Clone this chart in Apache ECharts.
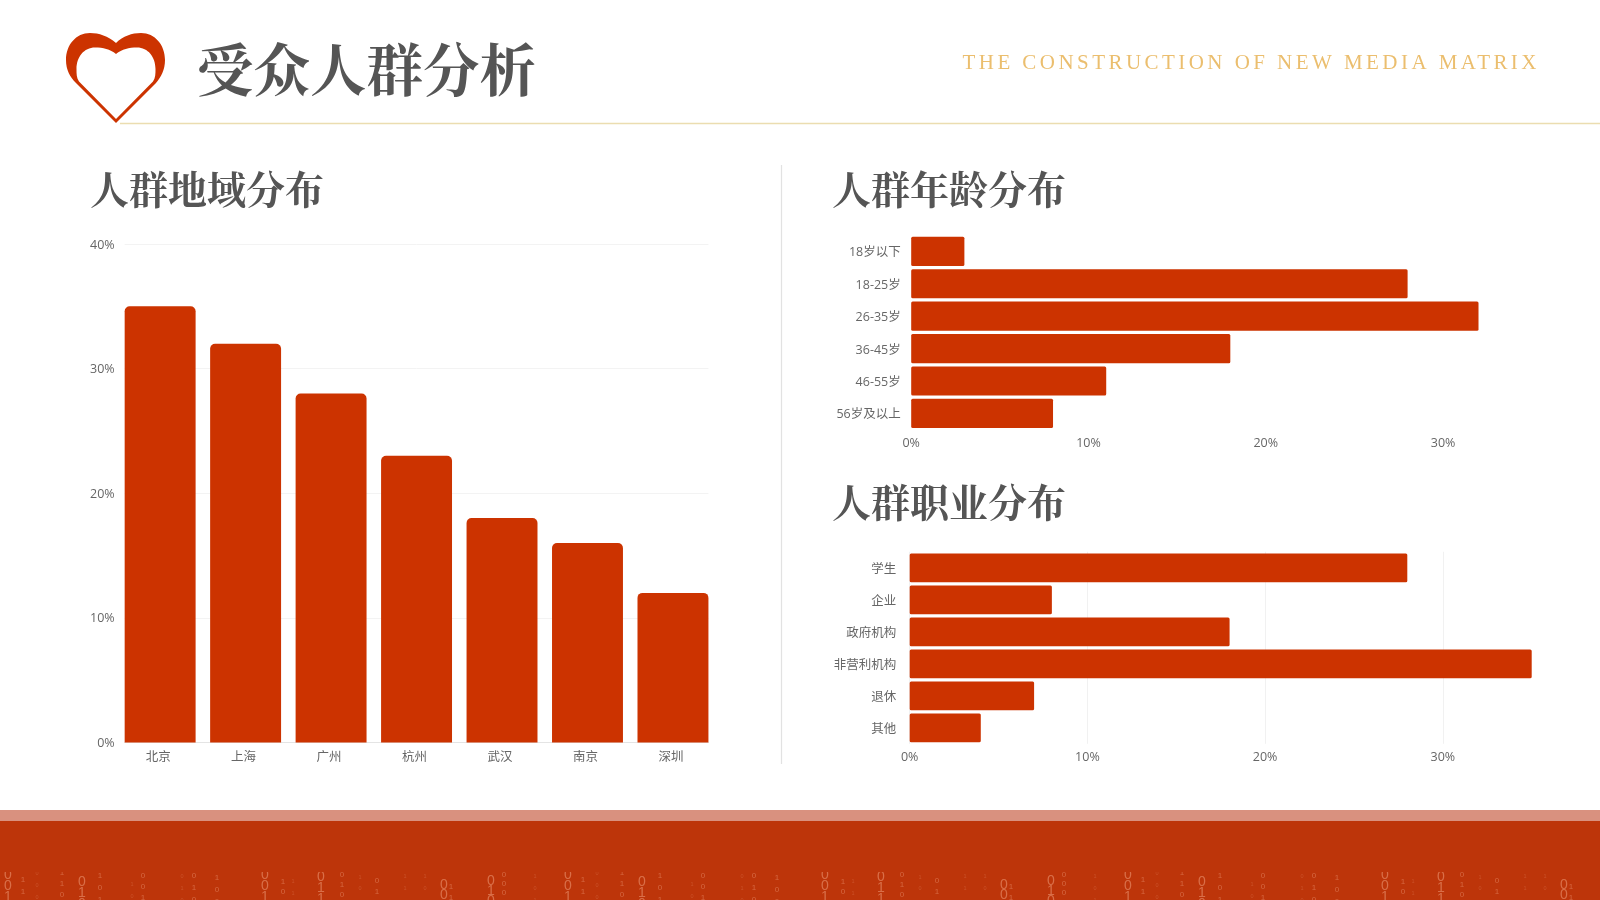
<!DOCTYPE html>
<html><head><meta charset="utf-8">
<style>html,body{margin:0;padding:0;background:#fff}#main{position:absolute;left:0;top:0;width:1600px;height:900px}#tag{position:absolute;left:950px;top:40px;width:640px;height:44px}</style>
<script src="https://cdn.jsdelivr.net/npm/echarts@6/dist/echarts.min.js"></script>
</head><body><div id="main"></div><div id="tag"></div>
<script>
const mainTitle = '受众人群分析';
const tagline = 'THE CONSTRUCTION OF NEW MEDIA MATRIX';
const regionTitle = '人群地域分布', ageTitle = '人群年龄分布', jobTitle = '人群职业分布';
const regionCats = ['北京','上海','广州','杭州','武汉','南京','深圳'];
const regionVals = [35,32,28,23,18,16,12];
const ageCats = ['18岁以下','18-25岁','26-35岁','36-45岁','46-55岁','56岁及以上'];
const ageVals = [3,28,32,18,11,8];
const jobCats = ['学生','企业','政府机构','非营利机构','退休','其他'];
const jobVals = [28,8,18,35,7,4];
// decorative binary columns in the footer: [x, font size, first row y, line step, digits]
const digitCols = [
 [8,14,875,11,'001'],[23,8,880,12,'11'],[37,5.5,873,12,'000'],[62,8,873,11,'110'],[82,14,882,11,'010'],
 [100,8,876,12,'101'],[132,5.5,884,12,'10'],[143,8,876,11,'001'],[182,5.5,876,12,'010'],[194,8,876,12,'010'],
 [217,8,878,12,'100'],[265,14,875,11,'001'],[283,8,882,10,'10'],[293,5.5,881,12,'11'],
 [321,14,877,11,'011'],[342,8,875,10,'010'],[360,5.5,877,11,'10'],[377,8,881,11,'01'],[405,5.5,876,12,'11'],
 [425,5.5,876,12,'10'],[444,14,885,10,'00'],[451,8,887,11,'11'],[491,14,881,10,'010'],[504,8,875,9,'000'],[535,5.5,876,12,'101']
];
const digitTile = 560, digitRepeats = [0,1,2];
const barRed = '#CC3300', muted = '#666', serif = '"Noto Serif CJK SC","Noto Sans CJK SC",serif', sans = '"Open Sans","Noto Sans CJK SC",sans-serif';
const heartOuter = 'M116,43 C108,36 99,33 90,33 C76,33 66,45 66,60 C66,70 70,77 76,83 L116,123 L156,83 C161,77 165,70 165,60 C165,45 155,33 141,33 C132,33 123,36 116,43 Z';
const heartInner = 'M116,54 C110,49 103,47.5 95,47.5 C84,47.5 76.5,57 76.5,69 C76.5,74 76.5,78 79,81.5 L116,119 L153,81.5 C155.5,78 155.5,74 155.5,69 C155.5,57 148,47.5 137,47.5 C129,47.5 122,49 116,54 Z';
echarts.graphic.registerShape('heartOuter', echarts.graphic.extendPath(heartOuter,{}));
echarts.graphic.registerShape('heartInner', echarts.graphic.extendPath(heartInner,{}));

const T = (x,y,text,size)=>({type:'text',x,y,silent:true,style:{text,fill:'#555',font:`700 ${size}px ${serif}`,verticalAlign:'middle'}});
const digits = [];
digitRepeats.forEach(r=>digitCols.forEach(c=>{
  digits.push({type:'text',x:c[0]+r*digitTile,y:c[2]-c[3]/2,silent:true,style:{text:c[4].split('').join('\n'),align:'center',verticalAlign:'top',
    fill:'rgba(255,190,160,'+(c[1]>=10?0.42:(c[1]>=7?0.36:0.2))+')',font:`${c[1]}px "Liberation Sans"`,lineHeight:c[3]}});
}));
const labelBase = {color:muted,fontFamily:sans,fontSize:12.5};
const pct = Object.assign({},labelBase,{formatter:'{value}%'});
const nudged = (suffix,top)=>Object.assign({},labelBase,{formatter:'{a|{value}'+suffix+'}',rich:{a:{color:muted,fontFamily:sans,fontSize:12.5,padding:[top,0,0,0]}}});
const hBar = (data,radius)=>({type:'bar',data,barCategoryGap:'10%',itemStyle:{color:barRed,borderRadius:radius},silent:true,animation:false});

const chart = echarts.init(document.getElementById('main'),null,{width:1600,height:900});
chart.setOption({
 animation:false,backgroundColor:'#fff',
 graphic:[
  {type:'rect',shape:{x:0,y:810,width:1600,height:11},style:{fill:'#D9917F'},silent:true},
  {type:'rect',shape:{x:0,y:821,width:1600,height:79},style:{fill:'#BD350A'},silent:true},
  {type:'heartOuter',style:{fill:barRed},silent:true},
  {type:'heartInner',style:{fill:'#fff'},silent:true},
  {type:'line',shape:{x1:120,y1:123.5,x2:1600,y2:123.5},style:{stroke:'#EBDDB0',lineWidth:1.5},silent:true},
  {type:'line',shape:{x1:781.5,y1:165,x2:781.5,y2:764},style:{stroke:'#E2E2E2',lineWidth:1.2},silent:true},
  T(197,70,mainTitle,56.5),T(90,189.5,regionTitle,39),T(832,189.5,ageTitle,39),T(832,502,jobTitle,39),
  ...digits,
  {type:'rect',shape:{x:0,y:840,width:1600,height:32},style:{fill:'#BD350A'},silent:true}
 ],
 grid:[
  {left:117.4,width:598.3,top:244,height:498.4},
  {left:124.7,width:583.7,top:244,height:498.4},
  {left:911.2,width:620.5,top:235.1,height:194.5},
  {left:909.7,width:622,top:551.8,height:192}
 ],
 xAxis:[
  {gridIndex:0,type:'category',data:regionCats,axisTick:{show:false},axisLine:{show:false},axisLabel:Object.assign({},labelBase,{margin:9,padding:[0,4,0,0]})},
  {gridIndex:1,type:'value',min:0,max:1,splitLine:{show:false},axisTick:{show:false},axisLabel:{show:false},axisLine:{lineStyle:{color:'#E4E4E4'}}},
  {gridIndex:2,type:'value',min:0,max:35,interval:10,splitLine:{show:false},axisLine:{show:false},axisTick:{show:false},axisLabel:Object.assign({},pct,{margin:8,showMaxLabel:false})},
  {gridIndex:3,type:'value',min:0,max:35,interval:10,splitLine:{lineStyle:{color:'#F1F1F1'},showMaxLine:false},axisLine:{show:false},axisTick:{show:false},axisLabel:Object.assign({},pct,{margin:7,showMaxLabel:false})}
 ],
 yAxis:[
  {gridIndex:0,type:'value',min:0,max:40,interval:10,show:false},
  {gridIndex:1,type:'value',min:0,max:40,interval:10,splitLine:{lineStyle:{color:'#F3F3F3'}},axisLine:{show:false},axisTick:{show:false},axisLabel:Object.assign(nudged('%',2),{margin:10})},
  {gridIndex:2,type:'category',inverse:true,data:ageCats,axisLine:{show:false},axisTick:{show:false},axisLabel:Object.assign(nudged('',3),{margin:10.5})},
  {gridIndex:3,type:'category',inverse:true,data:jobCats,axisLine:{show:false},axisTick:{show:false},axisLabel:Object.assign(nudged('',4),{margin:13.5})}
 ],
 series:[
  {type:'bar',xAxisIndex:0,yAxisIndex:0,data:regionVals,barCategoryGap:'17%',itemStyle:{color:barRed,borderRadius:[5,5,0,0]},silent:true},
  Object.assign(hBar(ageVals,1.5),{xAxisIndex:2,yAxisIndex:2}),
  Object.assign(hBar(jobVals,1.5),{xAxisIndex:3,yAxisIndex:3})
 ]
});

// tagline: whole text on its own small canvas, tracked out through the canvas letterSpacing property
const tag = echarts.init(document.getElementById('tag'),null,{width:640,height:44});
tag.setOption({animation:false,graphic:[{type:'text',x:12.5,y:23.5,silent:true,style:{text:tagline,fill:'#EBBE6E',font:'21px "Liberation Serif"',verticalAlign:'middle'}}]});
const cv = document.querySelector('#tag canvas');
if(cv){cv.getContext('2d').letterSpacing='3.45px';tag.getZr().painter.refresh(true);}
</script></body></html>
